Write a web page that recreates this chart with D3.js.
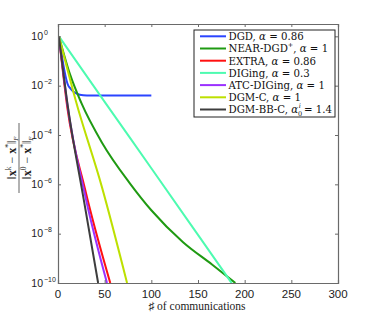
<!DOCTYPE html>
<html><head><meta charset="utf-8">
<script src="https://cdn.jsdelivr.net/npm/d3@7/dist/d3.min.js"></script>
<style>body{margin:0;background:#fff}svg{display:block}</style>
</head><body><svg id="c" width="374" height="319"></svg>
<script>
// ---- data ----
const seriesNames = ["DGD, α = 0.86","NEAR-DGD^{+}, α = 1","EXTRA, α = 0.86","DIGing, α = 0.3","ATC-DIGing, α = 1","DGM-C, α = 1","DGM-BB-C, α_{0}^{i} = 1.4"];
const seriesColors = ["#2b45ff","#1f9a12","#ff1010","#4dfbb0","#9b30ff","#bde000","#3d3d3d"];
const dgdX   = [1, 11, 13, 16, 20, 27, 35, 100];
const dgdY   = [1, 1.0e-2, 8.0e-3, 6.0e-3, 4.8e-3, 4.1e-3, 4.0e-3, 4.0e-3];
const nearX  = [1, 13, 25, 47, 77, 100, 134, 165, 190];
const nearY  = [1, 2.8e-2, 2.0e-3, 5.0e-5, 1.1e-6, 8.9e-8, 4.5e-9, 5.6e-10, 1e-10];
const extraX = [1, 10, 29, 56];
const extraY = [1, 1.3e-3, 6.3e-7, 1e-10];
const digX   = [1, 50, 100, 150, 186];
const digY   = [1, 2.2e-3, 4.5e-6, 8.9e-9, 1e-10];
const atcX   = [1, 10, 30, 52.5];
const atcY   = [1, 1.8e-3, 2.5e-7, 1e-10];
const dgmcX  = [1, 19, 47, 74];
const dgmcY  = [1, 2.5e-3, 7.9e-7, 1e-10];
const bbX    = [1, 10, 27.5, 43];
const bbY    = [1, 2.0e-3, 2.5e-7, 1e-10];
const xTicks = [0, 50, 100, 150, 200, 250, 300];
const yTickExp = [0, -2, -4, -6, -8, -10];
const xLabel = "♯ of communications";

const allX = [dgdX, nearX, extraX, digX, atcX, dgmcX, bbX];
const allY = [dgdY, nearY, extraY, digY, atcY, dgmcY, bbY];

// ---- layout ----
const L = 58, R = 338, T = 24, B = 283;
const svg = d3.select("#c");
const x = d3.scaleLinear().domain([0, 300]).range([L, R]);
const y = d3.scaleLog().domain([1e-10, Math.pow(10, 0.5)]).range([B, T]);

svg.append("defs").append("clipPath").attr("id", "clip")
  .append("rect").attr("x", L).attr("y", T).attr("width", R - L).attr("height", B - T);

// lines
const line = d3.line().x(d => x(d[0])).y(d => y(d[1])).curve(d3.curveMonotoneX);
const g = svg.append("g").attr("clip-path", "url(#clip)");
allX.forEach((xs, i) => {
  const pts = xs.map((v, j) => [v, allY[i][j]]);
  g.append("path").datum(pts).attr("d", line).attr("fill", "none")
    .attr("stroke", seriesColors[i]).attr("stroke-width", 2).attr("stroke-linejoin", "round");
});

// axes frame
const axCol = "#6a6a6a";
const tickLen = 3;
const xb = d3.axisBottom(x).tickValues(xTicks).tickSize(-tickLen).tickFormat("");
const xt = d3.axisTop(x).tickValues(xTicks).tickSize(-tickLen).tickFormat("");
const yTickVals = yTickExp.map(e => Math.pow(10, e));
const yl = d3.axisLeft(y).tickValues(yTickVals).tickSize(-tickLen).tickFormat("");
const yr = d3.axisRight(y).tickValues(yTickVals).tickSize(-tickLen).tickFormat("");
[[xb, `translate(0,${B})`], [xt, `translate(0,${T})`], [yl, `translate(${L},0)`], [yr, `translate(${R},0)`]].forEach(([a, tr]) => {
  const ag = svg.append("g").attr("transform", tr).call(a);
  ag.select(".domain").attr("stroke", axCol).attr("stroke-width", 1.2);
  ag.selectAll(".tick line").attr("stroke", axCol);
});

// x tick labels
svg.append("g").selectAll("text").data(xTicks).join("text")
  .attr("x", d => x(d)).attr("y", 298).attr("text-anchor", "middle")
  .attr("font-family", "Liberation Sans, Arial, sans-serif").attr("font-size", 11.5).attr("fill", "#222")
  .text(d => d);

// y tick labels
const yg = svg.append("g");
yTickExp.forEach(e => {
  const yy = y(Math.pow(10, e));
  yg.append("text").attr("x", 43).attr("y", yy + 3.5).attr("text-anchor", "end")
    .attr("font-family", "Liberation Sans, Arial, sans-serif").attr("font-size", 10.5).attr("fill", "#222").text("10");
  yg.append("text").attr("x", 44).attr("y", yy - 1.5)
    .attr("font-family", "Liberation Sans, Arial, sans-serif").attr("font-size", 7).attr("fill", "#222").text(String(e).replace("-", "\u2212"));
});

// x label
const serif = "Liberation Serif, DejaVu Serif, serif";
svg.append("text").attr("x", 197).attr("y", 310).attr("text-anchor", "middle")
  .attr("font-family", serif).attr("font-size", 11.5).attr("fill", "#222")
  .text(xLabel);

// y label (fraction, rotated)
const fy = svg.append("g").attr("transform", "translate(19,158) rotate(-90)");
function normText(gg, yy, sup) {
  const t = gg.append("text").attr("x", 0).attr("y", yy).attr("text-anchor", "middle")
    .attr("font-family", serif).attr("font-size", 12).attr("fill", "#222");
  t.append("tspan").text("\u2016");
  t.append("tspan").attr("font-weight", "bold").text("x");
  t.append("tspan").attr("font-size", 7.5).attr("dy", -4.5).text(sup);
  t.append("tspan").attr("dy", 4.5).text(" \u2212 ");
  t.append("tspan").attr("font-weight", "bold").text("x");
  t.append("tspan").attr("font-size", 7.5).attr("dy", -4.5).text("*");
  t.append("tspan").attr("dy", 4.5).text("\u2016");
  t.append("tspan").attr("font-size", 7).attr("font-style", "italic").attr("dy", 2.5).text("F");
}
normText(fy, -3.5, "k");
fy.append("line").attr("x1", -35).attr("x2", 35).attr("y1", 0).attr("y2", 0).attr("stroke", "#222").attr("stroke-width", 0.7);
normText(fy, 11.5, "0");

// legend
const lgX = 194, lgY = 30, lgW = 141, lgH = 87, rowH = 12.2;
const lg = svg.append("g");
lg.append("rect").attr("x", lgX).attr("y", lgY).attr("width", lgW).attr("height", lgH)
  .attr("fill", "#fff").attr("stroke", "#222").attr("stroke-width", 1);
seriesNames.forEach((name, i) => {
  const cy = 36.3 + i * rowH;
  lg.append("line").attr("x1", 200).attr("x2", 226).attr("y1", cy).attr("y2", cy)
    .attr("stroke", seriesColors[i]).attr("stroke-width", 2);
  const t = lg.append("text").attr("x", 228.5).attr("y", cy + 3.8)
    .attr("font-family", "DejaVu Serif, serif").attr("font-size", 10.2).attr("fill", "#111");
  const re = /(α|\^\{[^}]*\}|_\{[^}]*\})/g;
  let last = 0, m, shift = 0;
  const parts = [];
  while ((m = re.exec(name)) !== null) {
    if (m.index > last) parts.push({ s: name.slice(last, m.index), k: "n" });
    const tok = m[0];
    if (tok === "α") parts.push({ s: "α", k: "i" });
    else if (tok[0] === "^") parts.push({ s: tok.slice(2, -1), k: "sup" });
    else parts.push({ s: tok.slice(2, -1), k: "sub" });
    last = m.index + tok.length;
  }
  if (last < name.length) parts.push({ s: name.slice(last), k: "n" });
  let prevSub = false;
  parts.forEach(p => {
    const sp = t.append("tspan").text(p.s);
    if (p.k === "i") { sp.attr("font-style", "italic"); }
    if (p.k === "sub") { sp.attr("font-size", 6.5).attr("dy", 3 - shift); shift = 3; prevSub = true; }
    else if (p.k === "sup") {
      sp.attr("font-size", 6.5).attr("font-style", "italic").attr("dy", -5.5 - shift); shift = -5.5;
      if (prevSub) sp.attr("dx", -3.5);
      prevSub = false;
    }
    else { if (shift !== 0) { sp.attr("dy", -shift); shift = 0; } prevSub = false; }
  });
});
</script></body></html>
